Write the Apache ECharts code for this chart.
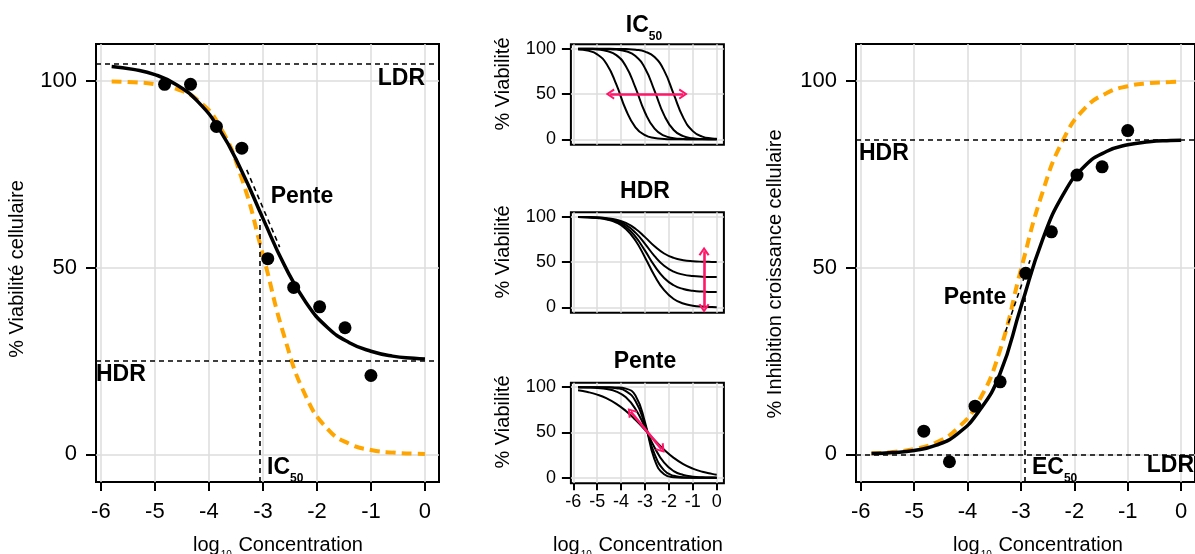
<!DOCTYPE html>
<html>
<head>
<meta charset="utf-8">
<script src="https://cdn.jsdelivr.net/npm/echarts@6/dist/echarts.min.js"></script>
<style>
html,body{margin:0;padding:0;background:#fff;}
#c{width:1195px;height:554px;}
</style>
</head>
<body>
<div id="c"></div>
<script>
// ---------- data ----------
const xTicks = [-6, -5, -4, -3, -2, -1, 0];
const yTicks = [0, 50, 100];
const curveX = [-5.8, -5.4, -5.0, -4.6, -4.2, -3.8, -3.4, -3.0, -2.6, -2.2, -1.8, -1.4, -1.0, -0.6, -0.2, 0];

// left panel: % viability
const doseX = [-4.82, -4.34, -3.86, -3.39, -2.91, -2.43, -1.95, -1.48, -1.0];
const viaObs = [99.1, 99.1, 87.8, 82.0, 52.4, 44.7, 39.5, 33.9, 21.1];
const viaFit = [103.9, 103.1, 101.7, 99.0, 94.4, 86.9, 76.1, 63.2, 50.6, 40.6, 33.9, 29.9, 27.6, 26.3, 25.7, 25.5];
const viaRef = [99.86, 99.65, 99.14, 97.86, 94.79, 87.87, 74.26, 53.45, 31.37, 15.40, 6.76, 2.80, 1.14, 0.45, 0.18, 0.11];
const viaLDR = 104.7, viaHDR = 25, viaIC50 = -3.05, viaIC50Top = 63;
const viaSlope = [[-3.30, 76.2], [-2.69, 55.5]];

// right panel: % growth inhibition
const inhObs = [6.2, -2.0, 12.9, 19.4, 48.5, 59.6, 74.8, 77.0, 86.7];
const inhFit = [0.19, 0.45, 1.04, 2.38, 5.36, 11.3, 21.3, 39.5, 57.3, 69.8, 77.3, 81.1, 82.9, 83.7, 84.04, 84.13];
const inhRef = [0.26, 0.62, 1.42, 3.1, 6.8, 14.0, 27.5, 49.5, 70.0, 84.5, 92.7, 96.7, 98.6, 99.4, 99.7, 99.8];
const inhHDR = 84.3, inhLDR = 0, inhEC50 = -2.92, inhEC50Top = 42;
const inhSlope = [[-3.29, 32.8], [-2.83, 52.0]];

// middle: IC50 varies
const ic50A = [99.35, 97.99, 93.9, 82.96, 60.63, 32.74, 13.34, 4.64, 1.52, 0.48, 0.15, 0.05, 0.02, 0.01, 0, 0];
const ic50B = [99.92, 99.76, 99.26, 97.68, 93.02, 80.84, 57.14, 29.66, 11.77, 4.05, 1.32, 0.42, 0.13, 0.04, 0.01, 0.01];
const ic50C = [99.99, 99.97, 99.91, 99.73, 99.14, 97.33, 92.03, 78.49, 53.59, 26.75, 10.35, 3.52, 1.14, 0.36, 0.12, 0.07];
const ic50D = [100, 100, 99.99, 99.97, 99.9, 99.68, 99.01, 96.93, 90.91, 75.97, 50, 24.03, 9.09, 3.07, 0.99, 0.56];
const ic50Arrow = [[-4.46, 50], [-1.4, 50]];

// middle: HDR varies
const hdrA = [99.76, 99.44, 98.73, 97.13, 93.67, 86.6, 73.81, 55.16, 34.94, 18.99, 9.28, 4.28, 1.91, 0.84, 0.37, 0.25];
const hdrB = [99.80, 99.53, 98.94, 97.61, 94.73, 88.84, 78.18, 62.65, 45.81, 32.52, 24.43, 20.27, 18.29, 17.40, 17.01, 16.91];
const hdrC = [99.84, 99.63, 99.15, 98.09, 95.78, 91.06, 82.53, 70.09, 56.60, 45.97, 39.49, 36.15, 34.57, 33.86, 33.55, 33.47];
const hdrD = [99.88, 99.72, 99.37, 98.57, 96.84, 93.3, 86.9, 77.58, 67.47, 59.5, 54.64, 52.14, 50.96, 50.42, 50.19, 50.13];
const hdrArrow = [[-0.53, -1], [-0.53, 62]];

// middle: slope varies
const slopeA = [96.57, 94.68, 91.82, 87.62, 81.7, 73.81, 64.0, 52.88, 41.45, 30.88, 21.99, 15.1, 10.09, 6.61, 4.28, 3.43];
const slopeB = [99.87, 99.68, 99.21, 98.04, 95.23, 88.82, 75.97, 55.73, 33.39, 16.63, 7.36, 3.07, 1.24, 0.5, 0.2, 0.13];
const slopeC = [100, 99.98, 99.93, 99.72, 98.89, 95.72, 84.9, 58.55, 26.19, 8.18, 2.19, 0.56, 0.14, 0.04, 0.01, 0];
const slopeD = [100, 100, 99.99, 99.96, 99.75, 98.44, 90.91, 61.31, 20.08, 3.83, 0.63, 0.1, 0.02, 0, 0, 0];
const slopeArrow = [[-3.6, 73], [-2.3, 31.4]];

// ---------- helpers ----------
const FONT = '"Liberation Sans", Arial, Helvetica, sans-serif';
const PINK = '#FF1668';
const ORANGE = '#FFA500';
const GRIDC = '#DCDCDC';
const pair = (xs, ys) => xs.map((x, i) => [x, ys[i]]);

const chart = echarts.init(document.getElementById('c'), null, {renderer: 'canvas'});

function xAx(gi, min, max, showLbl, fs, margin, tickLen) {
  return {
    type: 'value', gridIndex: gi, min: min, max: max,
    axisLine: {show: false, onZero: false},
    axisTick: {show: showLbl, customValues: xTicks, length: tickLen, lineStyle: {color: '#000', width: 2}},
    axisLabel: {show: showLbl, customValues: xTicks, fontSize: fs, color: '#000', fontFamily: FONT, margin: margin,
      showMinLabel: true, showMaxLabel: true},
    splitLine: {show: true, lineStyle: {color: GRIDC, width: 1.5}},
    minorSplitLine: {show: false}
  };
}
function yAx(gi, min, max, fs, margin, tickLen) {
  return {
    type: 'value', gridIndex: gi, min: min, max: max,
    axisLine: {show: false, onZero: false},
    axisTick: {show: true, customValues: yTicks, length: tickLen, lineStyle: {color: '#000', width: 2}},
    axisLabel: {show: true, customValues: yTicks, fontSize: fs, color: '#000', fontFamily: FONT, margin: margin},
    splitLine: {show: true, lineStyle: {color: GRIDC, width: 1.5}}
  };
}
const bigX = [-6.09, 0.26], bigY = [-7.42, 109.9];
const midX = [-6.1, 0.3], midY = [-6, 105];

const grids = [
  {left: 96, top: 44, width: 343, height: 438},
  {left: 570.9, top: 44.3, width: 153, height: 100.5},
  {left: 570.9, top: 212.3, width: 153, height: 100.5},
  {left: 570.9, top: 382.7, width: 153, height: 100.5},
  {left: 856, top: 44, width: 343, height: 438}
].map(g => Object.assign({show: true, borderColor: '#000', borderWidth: 2, backgroundColor: 'transparent', containLabel: false}, g));

const xAxes = [
  xAx(0, bigX[0], bigX[1], true, 22, 19, 9),
  xAx(1, midX[0], midX[1], false, 18, 10, 7),
  xAx(2, midX[0], midX[1], false, 18, 10, 7),
  xAx(3, midX[0], midX[1], true, 18, 10, 7),
  xAx(4, bigX[0], bigX[1], true, 22, 19, 9)
];
const yAxes = [
  yAx(0, bigY[0], bigY[1], 22, 19, 10),
  yAx(1, midY[0], midY[1], 18, 15, 9),
  yAx(2, midY[0], midY[1], 18, 15, 9),
  yAx(3, midY[0], midY[1], 18, 15, 9),
  yAx(4, bigY[0], bigY[1], 22, 19, 10)
];

const dashBlack = {color: '#000', width: 1.6, type: [5, 4]};
function curve(gi, ys, color, width, dashed, z) {
  return {
    type: 'line', xAxisIndex: gi, yAxisIndex: gi, data: pair(curveX, ys),
    showSymbol: false, symbol: 'none', smooth: 0.5,
    lineStyle: {color: color, width: width, type: dashed ? [10, 6] : 'solid', cap: 'butt', opacity: 1},
    silent: true, z: z || 3
  };
}
function refLines(gi, items) {
  return {
    type: 'line', xAxisIndex: gi, yAxisIndex: gi, data: [], silent: true, z: 2,
    markLine: {silent: true, symbol: 'none', label: {show: false}, animation: false,
      lineStyle: dashBlack, emphasis: {disabled: true}, data: items}
  };
}
const chev = 'path://M0,9 L5,0 L10,9 L8.3,10 L5,3.8 L1.7,10 Z';
function arrow(gi, pts) {
  return {
    type: 'line', xAxisIndex: gi, yAxisIndex: gi, data: [], silent: true, z: 6,
    markLine: {silent: true, symbol: [chev, chev], symbolSize: [11, 9], label: {show: false}, animation: false,
      lineStyle: {color: PINK, width: 2.6, type: 'solid'}, emphasis: {disabled: true},
      data: [[{coord: pts[0]}, {coord: pts[1]}]]}
  };
}
function dots(gi, xs, ys) {
  return {type: 'scatter', xAxisIndex: gi, yAxisIndex: gi, data: pair(xs, ys), symbolSize: 13,
    itemStyle: {color: '#000', opacity: 1}, silent: true, z: 5};
}

const series = [
  // left
  refLines(0, [
    {yAxis: viaLDR}, {yAxis: viaHDR},
    [{coord: [viaIC50, bigY[0]]}, {coord: [viaIC50, viaIC50Top]}],
    [{coord: viaSlope[0]}, {coord: viaSlope[1]}]
  ]),
  curve(0, viaRef, ORANGE, 4, true, 3),
  curve(0, viaFit, '#000', 3.5, false, 4),
  dots(0, doseX, viaObs),
  // middle
  curve(1, ic50A, '#000', 2, false), curve(1, ic50B, '#000', 2, false),
  curve(1, ic50C, '#000', 2, false), curve(1, ic50D, '#000', 2, false),
  arrow(1, ic50Arrow),
  curve(2, hdrA, '#000', 2, false), curve(2, hdrB, '#000', 2, false),
  curve(2, hdrC, '#000', 2, false), curve(2, hdrD, '#000', 2, false),
  arrow(2, hdrArrow),
  curve(3, slopeA, '#000', 2, false), curve(3, slopeB, '#000', 2, false),
  curve(3, slopeC, '#000', 2, false), curve(3, slopeD, '#000', 2, false),
  arrow(3, slopeArrow),
  // right
  refLines(4, [
    {yAxis: inhHDR}, {yAxis: inhLDR},
    [{coord: [inhEC50, bigY[0]]}, {coord: [inhEC50, inhEC50Top]}],
    [{coord: inhSlope[0]}, {coord: inhSlope[1]}]
  ]),
  curve(4, inhRef, ORANGE, 4, true, 3),
  curve(4, inhFit, '#000', 3.5, false, 4),
  dots(4, doseX, inhObs)
];

// ---------- text ----------
function txt(x, y, text, opts) {
  opts = opts || {};
  return {
    type: 'text', x: x, y: y, rotation: opts.rot || 0, z: 100, silent: true,
    style: Object.assign({
      text: text, fontFamily: FONT, fontSize: opts.fs || 20, fontWeight: opts.bold ? 'bold' : 'normal',
      fill: '#000', align: opts.align || 'center', verticalAlign: 'middle'
    }, opts.rich ? {rich: opts.rich} : {})
  };
}
const richLog = {
  a: {fontSize: 20, fontFamily: FONT, fill: '#000', verticalAlign: 'bottom', lineHeight: 24},
  s: {fontSize: 10, fontFamily: FONT, fill: '#000', verticalAlign: 'bottom', lineHeight: 24, padding: [0, 1, -5, 1]}
};
const richBold = {
  b: {fontSize: 23, fontFamily: FONT, fontWeight: 'bold', fill: '#000', verticalAlign: 'bottom', lineHeight: 26},
  s: {fontSize: 12, fontFamily: FONT, fontWeight: 'bold', fill: '#000', verticalAlign: 'bottom', lineHeight: 26, padding: [0, 0, -6, 0]}
};
const logTitle = '{a|log}{s|10}{a| Concentration}';
const graphic = [
  // left panel
  txt(17, 269, '% Viabilité cellulaire', {rot: Math.PI / 2}),
  txt(278, 543, logTitle, {rich: richLog}),
  txt(425, 79, 'LDR', {bold: true, fs: 23, align: 'right'}),
  txt(96, 375, 'HDR', {bold: true, fs: 23, align: 'left'}),
  txt(302, 197, 'Pente', {bold: true, fs: 23}),
  txt(267, 466, '{b|IC}{s|50}', {rich: richBold, align: 'left'}),
  // middle
  txt(503, 84, '% Viabilité', {rot: Math.PI / 2}),
  txt(503, 252, '% Viabilité', {rot: Math.PI / 2}),
  txt(503, 422, '% Viabilité', {rot: Math.PI / 2}),
  txt(644, 24, '{b|IC}{s|50}', {rich: richBold}),
  txt(645, 192, 'HDR', {bold: true, fs: 23}),
  txt(645, 362, 'Pente', {bold: true, fs: 23}),
  txt(638, 543, logTitle, {rich: richLog}),
  // right panel
  txt(775, 274, '% Inhibition croissance cellulaire', {rot: Math.PI / 2}),
  txt(1038, 543, logTitle, {rich: richLog}),
  txt(859, 154, 'HDR', {bold: true, fs: 23, align: 'left'}),
  txt(975, 298, 'Pente', {bold: true, fs: 23}),
  txt(1032, 466, '{b|EC}{s|50}', {rich: richBold, align: 'left'}),
  txt(1194, 466, 'LDR', {bold: true, fs: 23, align: 'right'})
];

chart.setOption({
  animation: false,
  backgroundColor: '#fff',
  textStyle: {fontFamily: FONT},
  grid: grids,
  xAxis: xAxes,
  yAxis: yAxes,
  series: series,
  graphic: graphic
});
</script>
</body>
</html>
